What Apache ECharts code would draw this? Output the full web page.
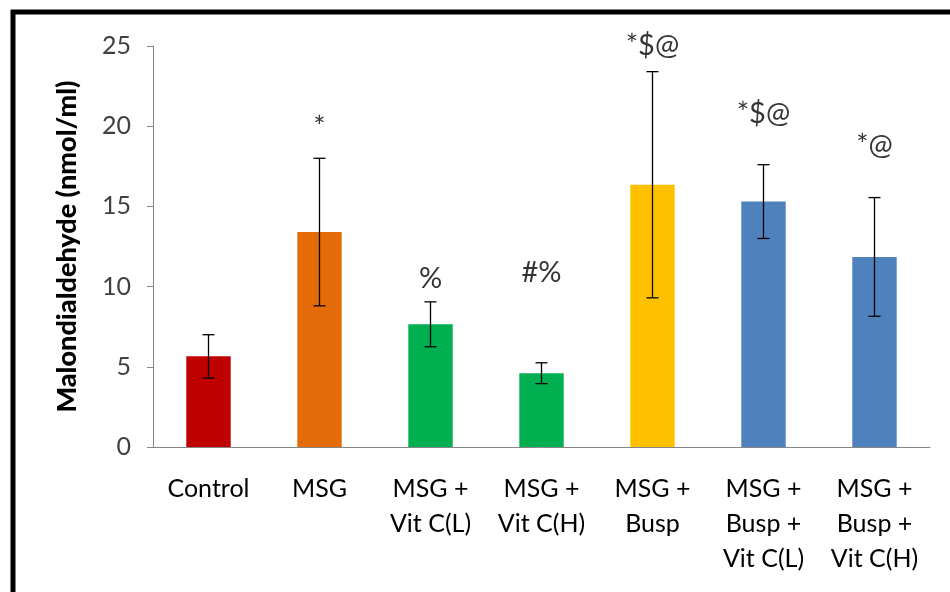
<!DOCTYPE html>
<html>
<head>
<meta charset="utf-8">
<script src="https://cdn.jsdelivr.net/npm/echarts@6/dist/echarts.min.js"></script>
<style>
  html, body { margin: 0; padding: 0; background: #fff; }
  #chart { width: 950px; height: 592px; }
</style>
</head>
<body>
<div id="chart"></div>
<script>
// group names shown under the bars
const categories = [
  "Control", "MSG", "MSG +\nVit C(L)", "MSG +\nVit C(H)",
  "MSG +\nBusp", "MSG +\nBusp +\nVit C(L)", "MSG +\nBusp +\nVit C(H)"
];
// mean malondialdehyde (nmol/ml) and error (+/-)
const means = [5.65, 13.4, 7.65, 4.6, 16.35, 15.3, 11.85];
const errors = [1.35, 4.6, 1.4, 0.65, 7.05, 2.3, 3.7];
const barColors = ["#C00000", "#E36C09", "#00B050", "#00B050", "#FFC000", "#4F81BD", "#4F81BD"];
// significance marks and the y value they sit at
const marks = ["", "*", "%", "#%", "*$@", "*$@", "*@"];
const markY = [0, 19.9, 10.5, 10.9, 25.05, 20.8, 18.8];
const yTicks = [0, 5, 10, 15, 20, 25];

const chart = echarts.init(document.getElementById("chart"));
const font = "Lato, 'Open Sans', sans-serif";

chart.setOption({
  animation: false,
  backgroundColor: "#fff",
  grid: { left: 153, right: 20, top: 46, bottom: 145 },
  graphic: [{
    type: "rect",
    shape: { x: 13, y: 12, width: 1200, height: 1200 },
    style: { fill: "none", stroke: "#000", lineWidth: 5 },
    silent: true
  }],
  xAxis: {
    type: "category",
    data: categories,
    axisLine: { lineStyle: { color: "#868686", width: 1 } },
    axisTick: { length: 9, lineStyle: { color: "#868686" } },
    axisLabel: {
      color: "#000", fontFamily: font, fontSize: 25,
      lineHeight: 35, margin: 24, interval: 0
    }
  },
  yAxis: {
    type: "value",
    min: yTicks[0],
    max: yTicks[yTicks.length - 1],
    interval: 5,
    name: "Malondialdehyde (nmol/ml)",
    nameLocation: "middle",
    nameGap: 72,
    nameTextStyle: { color: "#000", fontFamily: font, fontSize: 27, fontWeight: 900 },
    axisLine: { show: true, lineStyle: { color: "#868686" } },
    axisTick: { show: true, length: 6, lineStyle: { color: "#868686" } },
    splitLine: { show: false },
    axisLabel: { color: "#404040", fontFamily: font, fontSize: 25, margin: 22 }
  },
  series: [
    {
      type: "bar",
      barWidth: "40%",
      data: means.map((v, i) => ({ value: v, itemStyle: { color: barColors[i] } }))
    },
    {
      type: "custom",
      z: 5,
      data: means.map((v, i) => [i, v - errors[i], v + errors[i]]),
      renderItem: (params, api) => {
        const lo = api.coord([api.value(0), api.value(1)]);
        const hi = api.coord([api.value(0), api.value(2)]);
        const cap = 6;
        const st = { stroke: "#000", lineWidth: 1.3 };
        return {
          type: "group",
          children: [
            { type: "line", shape: { x1: hi[0], y1: hi[1], x2: lo[0], y2: lo[1] }, style: st },
            { type: "line", shape: { x1: hi[0] - cap, y1: hi[1], x2: hi[0] + cap, y2: hi[1] }, style: st },
            { type: "line", shape: { x1: lo[0] - cap, y1: lo[1], x2: lo[0] + cap, y2: lo[1] }, style: st }
          ]
        };
      }
    },
    {
      type: "scatter",
      symbolSize: 0,
      silent: true,
      clip: false,
      data: markY.map((y, i) => [i, y]).filter((d, i) => marks[i] !== ""),
      label: {
        show: true,
        position: "inside",
        color: "#000",
        fontFamily: font,
        fontSize: 29,
        formatter: p => marks[p.data[0]]
      }
    }
  ]
});
</script>
</body>
</html>
